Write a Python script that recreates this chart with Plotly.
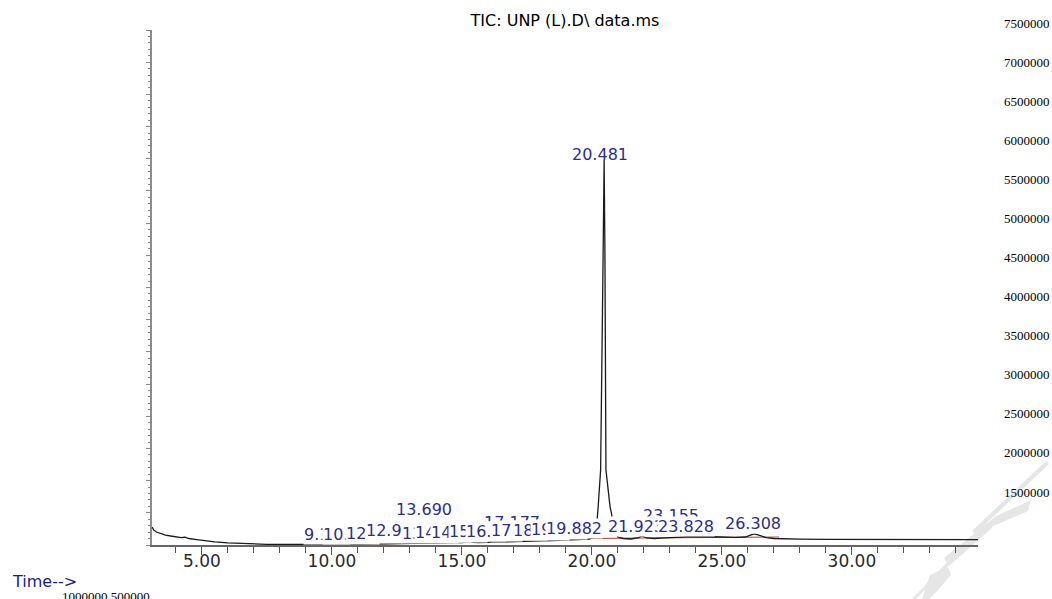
import plotly.graph_objects as go

# ---------------- data ----------------
time_min = [3.08, 3.15, 3.25, 3.40, 3.60, 3.80, 4.00, 4.20, 4.35, 4.50, 4.80, 5.00, 5.50, 6.00,
            6.50, 7.00, 7.50, 8.00, 9.00, 10.0, 11.0, 12.0, 12.5, 13.0, 13.4, 13.69, 13.9, 14.5,
            15.0, 15.3, 15.6, 16.0, 16.3, 16.7, 17.0, 17.5, 18.0, 18.5, 19.0, 19.5, 19.9,
            20.10, 20.20, 20.24, 20.335, 20.42, 20.47, 20.50, 20.54, 20.70, 20.75, 20.85, 21.0,
            21.2, 21.5, 21.8, 21.92, 22.1, 22.4, 22.8, 23.155, 23.5, 23.828, 24.2, 24.6, 25.0,
            25.5, 25.9, 26.1, 26.25, 26.45, 26.7, 27.0, 27.5, 28.0, 29.0, 30.0, 31.0, 32.0,
            33.0, 34.0, 34.85]
tic_abundance = [280000, 233000, 202000, 179000, 155000, 140000, 127000, 116000, 121000, 101000,
                 85000, 73000, 50000, 34000, 23000, 16000, 11000, 8000, 6000, 8000, 11000, 16000,
                 19000, 22000, 25000, 34000, 26000, 31000, 37000, 50000, 39000, 43000, 53000,
                 47000, 53000, 59000, 65000, 70000, 78000, 85000, 93000,
                 124000, 388000, 590000, 1165000, 4110000, 5980000, 4580000, 1165000, 590000,
                 497000, 233000, 124000,
                 101000, 93000, 116000, 140000, 109000, 101000, 112000, 124000, 124000, 132000,
                 132000, 127000, 124000, 120000, 124000, 155000, 171000, 148000, 116000, 101000,
                 93000, 90000, 87000, 85000, 85000, 84000, 84000, 84000, 82000]

baseline_min = [8.9, 12.0, 14.0, 16.0, 18.0, 20.0, 22.0, 24.0, 26.0, 27.2]
baseline_abundance = [0, 16000, 31000, 54000, 78000, 101000, 109000, 116000, 124000, 124000]

# peak labels: text, x position (min, left edge), vertical centre (px from top)
raised_labels = ["13.690", "17.177", "23.155"]
raised_x = [12.42, 15.81, 21.92]
raised_ypx = [509, 522, 515]

row_labels = ["9.105", "10.119", "12.005", "12.917", "13.125", "14.116", "14.153", "15.157",
              "16.171", "17.182", "18.175", "19.110", "19.882", "21.923", "23.828", "26.308"]
row_x = [8.885, 9.615, 10.50, 11.27, 12.65, 13.15, 13.77, 14.46,
         15.12, 16.08, 16.92, 17.62, 18.19, 20.58, 22.50, 25.08]
row_ypx = [534, 534, 533.5, 530, 533, 532.5, 532, 531.5,
           531, 530.5, 530, 529, 528, 526.5, 526, 523]

main_peak_label = "20.481"
main_peak_x = 19.15
main_peak_ypx = 154

right_tick_vals = [1500000, 2000000, 2500000, 3000000, 3500000, 4000000, 4500000,
                   5000000, 5500000, 6000000, 6500000, 7000000, 7500000]
right_tick_text = [str(v) for v in right_tick_vals]

x_range = [3.08, 34.85]
y_range = [0, 8.0e6]
y2_range = [822000, 7615000]

# ---------------- figure ----------------
W, H = 1052, 599
L, R, T, B = 152, 74, 14, 54
plot_h = H - T - B  # 531


def px(xp):
    return (xp - L) / (W - L - R)


def py(yp):
    return (H - B - yp) / plot_h


fig = go.Figure()
fig.add_trace(go.Scatter(x=baseline_min, y=baseline_abundance, mode="lines",
                         line=dict(color="#C0392B", width=1), hoverinfo="skip", showlegend=False))
fig.add_trace(go.Scatter(x=time_min, y=tic_abundance, mode="lines",
                         line=dict(color="#1a1a1a", width=1.3), showlegend=False))
fig.add_trace(go.Scatter(x=[None], y=[None], yaxis="y2", showlegend=False, hoverinfo="skip"))

blue = "#2B2E8E"
lab_font = dict(family="DejaVu Sans", size=16, color=blue)
ann = []
for t, xx, yy in zip(raised_labels, raised_x, raised_ypx):
    ann.append(dict(text=t, x=xx, xref="x", y=py(yy), yref="paper", xanchor="left",
                    yanchor="middle", showarrow=False, font=lab_font, bgcolor="white",
                    borderpad=0))
for t, xx, yy in zip(row_labels, row_x, row_ypx):
    ann.append(dict(text=t, x=xx, xref="x", y=py(yy), yref="paper", xanchor="left",
                    yanchor="middle", showarrow=False, font=lab_font, bgcolor="white",
                    borderpad=0))
ann.append(dict(text=main_peak_label, x=main_peak_x, xref="x", y=py(main_peak_ypx),
                yref="paper", xanchor="left", yanchor="middle", showarrow=False,
                font=lab_font))
ann.append(dict(text="Time-->", x=px(10), xref="paper", y=py(581), yref="paper",
                xanchor="left", yanchor="middle", showarrow=False,
                font=dict(family="DejaVu Sans", size=16, color="#1C1C8C")))
ann.append(dict(text="1000000 500000", x=px(152), xref="paper", y=py(587), yref="paper",
                xanchor="right", yanchor="top", showarrow=False,
                font=dict(family="Liberation Serif", size=13, color="black")))

# light grey watermark strokes (decoration)
wm = "#E6E6E6"
polys = [
    [(1046, 461), (1049, 464), (975, 534), (972, 531)],
    [(1031, 500), (1028, 511), (991, 527), (994, 517)],
    [(995, 517), (992, 528), (949, 566), (944, 558)],
    [(985, 523), (988, 525), (916, 599), (912, 599)],
    [(930, 575), (948, 567), (951, 575), (938, 590), (929, 599), (922, 599)],
]
shapes = []
for poly in polys:
    path = "M " + " L ".join(f"{px(a):.4f},{py(b):.4f}" for a, b in poly) + " Z"
    shapes.append(dict(type="path", path=path, xref="paper", yref="paper",
                       fillcolor=wm, line=dict(width=0), layer="below"))

fig.update_layout(
    width=W, height=H,
    margin=dict(l=L, r=R, t=T, b=B),
    paper_bgcolor="white", plot_bgcolor="rgba(0,0,0,0)",
    showlegend=False,
    title=dict(text="TIC: UNP (L).D\\ data.ms", x=0.5, xref="paper", xanchor="center",
               y=1 - 20 / H, yref="container", yanchor="middle",
               font=dict(family="DejaVu Sans", size=16, color="black")),
    xaxis=dict(range=x_range, anchor="y", showgrid=False, zeroline=False,
               showline=True, linecolor="#666666", linewidth=1.5,
               ticks="outside", ticklen=8, tickcolor="#555555", tickwidth=1,
               tick0=0, dtick=5, tickformat=".2f",
               minor=dict(ticks="outside", ticklen=6, dtick=1, tickcolor="#555555"),
               tickfont=dict(family="DejaVu Sans", size=17, color="#2a2a2a"),
               ticklabelstandoff=-8,
               automargin=False),
    yaxis=dict(range=y_range, domain=[0, 515 / plot_h], showgrid=False, zeroline=False,
               showline=True, linecolor="#8a8a8a", linewidth=1.5,
               ticks="outside", ticklen=4, tickcolor="#8a8a8a", dtick=500000,
               minor=dict(ticks="outside", ticklen=2, dtick=100000, tickcolor="#8a8a8a"),
               showticklabels=False, automargin=False),
    yaxis2=dict(range=y2_range, domain=[0, 1], anchor="free", position=1, side="right",
                showgrid=False, zeroline=False, showline=False, ticks="",
                tickmode="array", tickvals=right_tick_vals, ticktext=right_tick_text,
                ticklabelstandoff=25,
                tickfont=dict(family="Liberation Serif", size=13, color="black"),
                automargin=False),
    annotations=ann,
    shapes=shapes,
)

fig.write_html("out.html", config={"displayModeBar": False},
               post_script="document.body.style.margin='0';document.body.style.overflow='hidden';")
